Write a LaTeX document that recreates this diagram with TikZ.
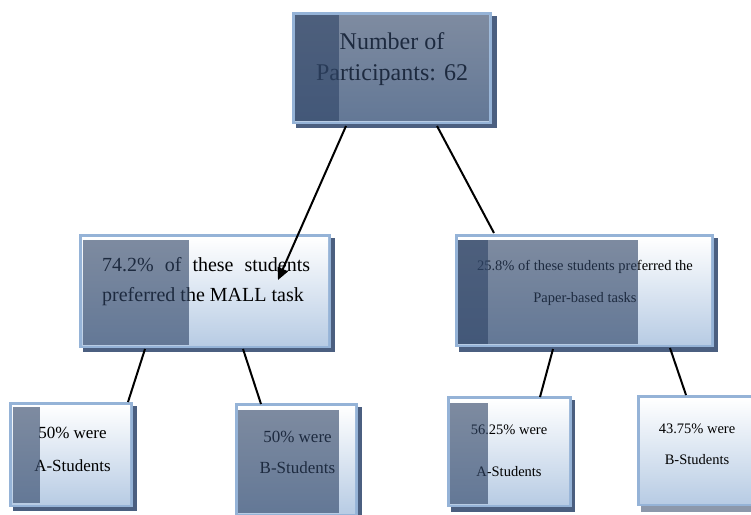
\documentclass[tikz,border=0pt]{standalone}
\usepackage{fontspec}
\setmainfont{Liberation Serif}
\usetikzlibrary{arrows.meta}
\definecolor{frameblue}{HTML}{95B3D7}
\definecolor{gradblue}{HTML}{B8CCE4}
\definecolor{shadowc}{HTML}{4B5F80}
\definecolor{shadowlight}{HTML}{8C98AB}
\definecolor{ovc}{HTML}{304567}
\tikzset{
  frm/.style={fill=frameblue},
  shd/.style={fill=shadowc},
  grad/.style={top color=white,bottom color=gradblue},
  ov/.style={fill=ovc,fill opacity=0.62},
  txt/.style={inner sep=0pt,align=center,text=black},
  conn/.style={line width=2pt,black},
  arr/.style={conn,-{Triangle[length=12pt,width=11pt]}}
}
\begin{document}
\begin{tikzpicture}[x=1pt,y=-1pt]
\useasboundingbox (0,0) rectangle (751,514);
\clip (0,0) rectangle (751,514);
% top box
\fill[shd] (296,16) rectangle (497,128);
\fill[frm] (292,12) rectangle (492,124);
\shade[grad] (295,15) rectangle (489,121);
\node[txt,font=\fontsize{24}{31}\selectfont] (top) at (392,59.5) {Number of\\Participants: 62};
\fill[ov] (295,15) rectangle (489,121);
\fill[ov] (295,15) rectangle (339,121);
% left middle box
\fill[shd] (83,238) rectangle (335,352);
\fill[frm] (79,234) rectangle (331,348);
\shade[grad] (82,237) rectangle (328,345);
\node[txt,align=left,anchor=west,font=\fontsize{20}{30}\selectfont] (mall) at (102,282)
  {\makebox[208pt][s]{74.2\% of these students}\\preferred the MALL task};
\fill[ov] (83,240) rectangle (189,345);
% right middle box
\fill[shd] (459,238) rectangle (718,352);
\fill[frm] (455,234) rectangle (714,347);
\shade[grad] (458,237) rectangle (711,344);
\node[txt,font=\fontsize{14.5}{32}\selectfont] (paper) at (585,283)
  {25.8\% of these students preferred the\\Paper-based tasks};
\fill[ov] (458,240) rectangle (638,344);
\fill[ov] (458,240) rectangle (488,344);
% box 1
\fill[shd] (13,406) rectangle (137,511);
\fill[frm] (9,402) rectangle (133,507);
\shade[grad] (12,405) rectangle (130,504);
\node[txt,font=\fontsize{17}{33}\selectfont] (a1) at (72.5,449.5) {50\% were\\A-Students};
\fill[ov] (13,407) rectangle (40,503);
% box 2
\fill[shd] (239,407) rectangle (362,520);
\fill[frm] (235,403) rectangle (358,516);
\shade[grad] (238,406) rectangle (355,513);
\node[txt,font=\fontsize{17}{31}\selectfont] (b1) at (297.5,452.5) {50\% were\\B-Students};
\fill[ov] (238,410) rectangle (339,513);
% box 3
\fill[shd] (451,400) rectangle (575,512);
\fill[frm] (447,396) rectangle (572,507);
\shade[grad] (450,399) rectangle (569,504);
\node[txt,font=\fontsize{14.5}{42}\selectfont] (a2) at (509,451) {56.25\% were\\A-Students};
\fill[ov] (450,403) rectangle (488,504);
% box 4
\fill[shadowlight] (641,400) rectangle (764,512);
\fill[frm] (637,395) rectangle (760,506);
\shade[grad] (640,398) rectangle (757,503);
\node[txt,font=\fontsize{14.5}{31}\selectfont] (b2) at (697,444.5) {43.75\% were\\B-Students};
% connector end points
\coordinate (t1) at (346,126);
\coordinate (t2) at (437,126);
\coordinate (m1) at (278,280);
\coordinate (m2) at (494,233);
\coordinate (l1) at (145,349);
\coordinate (l2) at (243,349);
\coordinate (r1) at (553,349);
\coordinate (r2) at (670,348);
\coordinate (q1) at (128,402);
\coordinate (q2) at (261,404);
\coordinate (q3) at (540,397);
\coordinate (q4) at (686,395);
\draw[arr] (t1) -- (m1);
\draw[conn] (t2) -- (m2);
\draw[conn] (l1) -- (q1);
\draw[conn] (l2) -- (q2);
\draw[conn] (r1) -- (q3);
\draw[conn] (r2) -- (q4);
\end{tikzpicture}
\end{document}
